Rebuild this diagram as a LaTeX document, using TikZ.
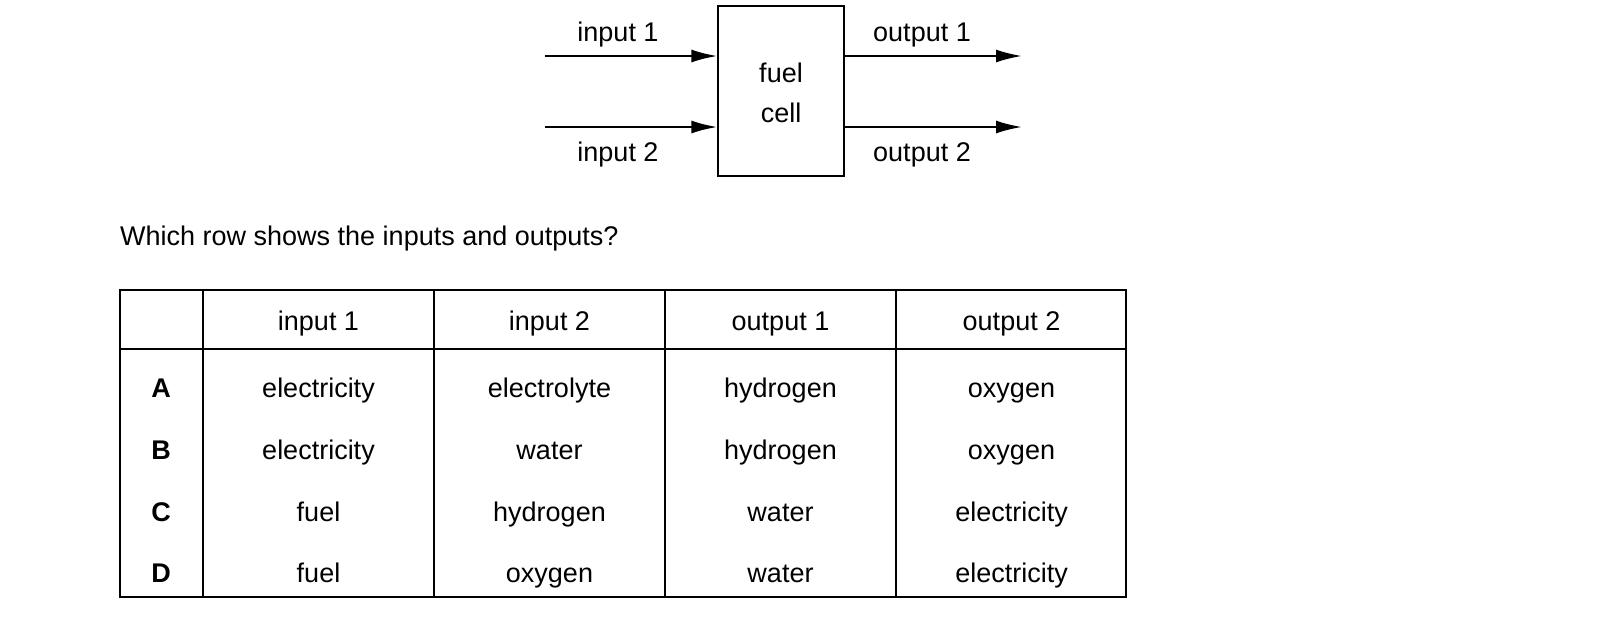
\documentclass[tikz,border=0pt]{standalone}
\usepackage{fontspec}
\setmainfont{Liberation Sans}
\usetikzlibrary{positioning,arrows.meta}

\begin{document}
\begin{tikzpicture}[x=1pt,y=-1pt,
	txt/.style={inner sep=0pt, text height=20pt, text depth=6pt, font=\fontsize{27}{32}\selectfont},
	boxnode/.style={rectangle, draw, line width=1.3pt, minimum width=126pt, minimum height=170pt},
	flow/.style={line width=2.2pt, -{Latex[length=26pt,width=13pt]}},
	]
	\useasboundingbox (0,0) rectangle (1605,630);
	%Nodes
	\node[boxnode](cell) at (781,91){};
	\node[txt](fuel) at (781,75){fuel};
	\node[txt](celltxt) at (781,115){cell};
	\coordinate (in1) at (545,56);
	\coordinate (in2) at (545,127);
	\coordinate (out1) at (1022,56);
	\coordinate (out2) at (1022,127);
	\node[txt](lin1) at (618,34){input 1};
	\node[txt](lin2) at (618,154){input 2};
	\node[txt](lout1) at (922,34){output 1};
	\node[txt](lout2) at (922,154){output 2};
	\node[txt,anchor=west](question) at (120,238){Which row shows the inputs and outputs?};

	%Lines
	\draw[flow] (in1) -- (in1 -| cell.west);
	\draw[flow] (in2) -- (in2 -| cell.west);
	\draw[flow] (out1 -| cell.east) -- (out1);
	\draw[flow] (out2 -| cell.east) -- (out2);

	%Table
	\draw[line width=1.3pt] (120,290) rectangle (1126,597);
	\draw[line width=1.3pt] (120,349) -- (1126,349);
	\foreach \x in {203,434,665,896}
		\draw[line width=1.3pt] (\x,290) -- (\x,597);
	\foreach \t [count=\i] in {input 1,input 2,output 1,output 2}
		\node[txt](head\i) at (203+231*\i-115.5,323){\t};
	\foreach \r/\y/\a/\b/\c/\d in {A/390/electricity/electrolyte/hydrogen/oxygen,
		B/452/electricity/water/hydrogen/oxygen,
		C/514/fuel/hydrogen/water/electricity,
		D/575/fuel/oxygen/water/electricity}{
		\node[txt,font=\fontsize{27}{32}\selectfont\bfseries](row\r) at (161,\y){\r};
		\node[txt](row\r a) at (318.5,\y){\a};
		\node[txt](row\r b) at (549.5,\y){\b};
		\node[txt](row\r c) at (780.5,\y){\c};
		\node[txt](row\r d) at (1011.5,\y){\d};
	}
\end{tikzpicture}
\end{document}
